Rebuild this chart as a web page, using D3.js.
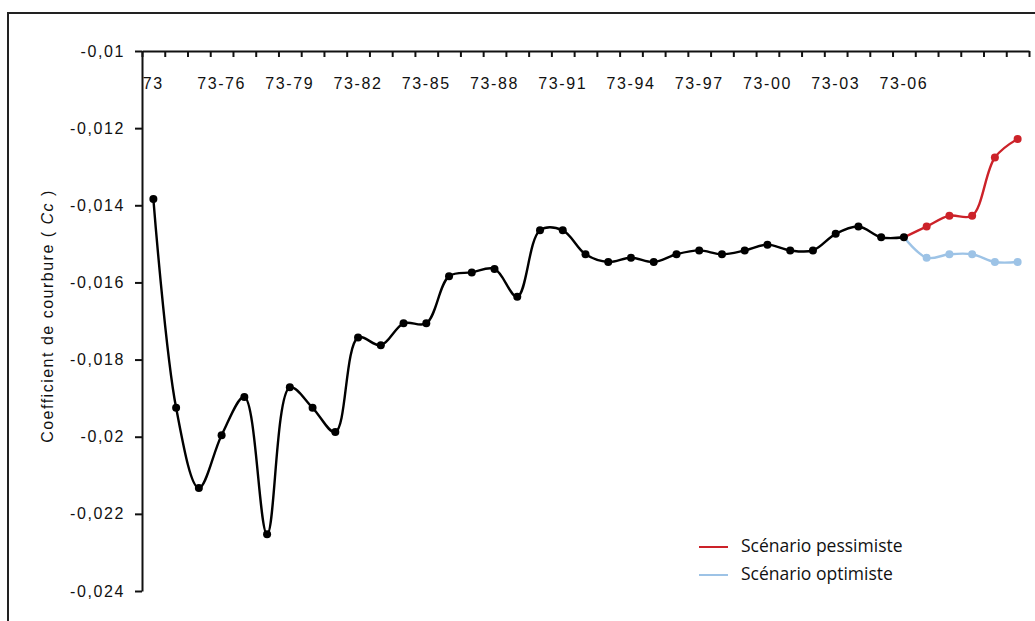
<!DOCTYPE html>
<html><head><meta charset="utf-8">
<script src="https://cdn.jsdelivr.net/npm/d3@7/dist/d3.min.js"></script>
<style>
html,body{margin:0;padding:0;background:#fff;}
svg{display:block;}
</style></head>
<body>
<svg id="chart" width="1035" height="621"></svg>
<script>
// ---- data ----
const years = d3.range(1973, 2012); // 1973 .. 2011 (categories)
const observedYears = d3.range(1973, 2007);
const observed = [-0.01384,-0.01925,-0.02133,-0.01996,-0.01897,-0.02253,-0.01872,-0.01925,-0.01988,-0.01743,
  -0.01763,-0.01706,-0.01706,-0.01584,-0.01574,-0.01565,-0.01637,-0.01465,-0.01465,-0.01527,
  -0.01547,-0.01536,-0.01547,-0.01527,-0.01517,-0.01527,-0.01517,-0.01502,-0.01517,-0.01517,
  -0.01474,-0.01455,-0.01483,-0.01483];
const scenarioYears = [2006, 2007, 2008, 2009, 2010, 2011];
const pessimiste = [-0.01483, -0.01455, -0.01427, -0.01427, -0.01276, -0.01228];
const optimiste  = [-0.01483, -0.01536, -0.01527, -0.01527, -0.01547, -0.01547];
const yTicks = [-0.01, -0.012, -0.014, -0.016, -0.018, -0.02, -0.022, -0.024];
const xLabelYears = [1973,1976,1979,1982,1985,1988,1991,1994,1997,2000,2003,2006];
const xLabels = ["73","73-76","73-79","73-82","73-85","73-88","73-91","73-94","73-97","73-00","73-03","73-06"];
const legendLabels = ["Scénario pessimiste", "Scénario optimiste"];
const colors = {obs:"#000000", pess:"#cc2229", opt:"#9dc3e6"};

// ---- layout ----
const svg = d3.select("#chart");
const mLeft = 142, mRight = 1029, mTop = 51, mBottom = 591;

// outer frame
svg.append("rect").attr("x",8).attr("y",13).attr("width",1100).attr("height",700)
  .attr("fill","none").attr("stroke","#222").attr("stroke-width",2);

const x = d3.scaleBand().domain(years).range([mLeft, mRight]).padding(0);
const xc = d => x(d) + x.bandwidth()/2;
const xb = d3.scaleLinear().domain([0, years.length]).range([mLeft, mRight]);
const y = d3.scaleLinear().domain([-0.024, -0.01]).range([mBottom, mTop]);

const fmt = v => String(v).replace(".", ",");

// y axis
const yAxis = svg.append("g").attr("transform",`translate(${mLeft},0)`)
  .call(d3.axisLeft(y).tickValues(yTicks).tickFormat(fmt).tickSize(7).tickSizeOuter(0).tickPadding(10));
yAxis.select(".domain").attr("stroke","#111").attr("stroke-width",2);
yAxis.selectAll(".tick line").attr("stroke","#111").attr("stroke-width",2);
yAxis.selectAll(".tick text").attr("font-family","Liberation Sans, Arial, sans-serif")
  .attr("font-size",16).attr("fill","#111").style("letter-spacing","1.6px");

// x axis (top) ticks at band boundaries
const xAxis = svg.append("g").attr("transform",`translate(0,${mTop})`)
  .call(d3.axisTop(xb).tickValues(d3.range(0, years.length + 1)).tickFormat("").tickSize(-6).tickSizeOuter(0));
xAxis.select(".domain").attr("stroke","#111").attr("stroke-width",2);
xAxis.selectAll(".tick line").attr("stroke","#111").attr("stroke-width",2);

// x labels
svg.append("g").selectAll("text").data(xLabelYears).join("text")
  .attr("x", d => xc(d)).attr("y", 89)
  .attr("text-anchor","middle")
  .attr("font-family","Liberation Sans, Arial, sans-serif").attr("font-size",16).attr("fill","#111")
  .style("letter-spacing","1.6px")
  .text((d,i) => xLabels[i]);

// y title
const yt = svg.append("text")
  .attr("transform", `translate(53,316) rotate(-90)`)
  .attr("text-anchor","middle")
  .attr("font-family","Liberation Sans, Arial, sans-serif").attr("font-size",16).attr("fill","#111")
  .style("letter-spacing","1.5px");
yt.append("tspan").text("Coefficient de courbure ( ");
yt.append("tspan").attr("font-style","italic").text("Cc");
yt.append("tspan").text(" )");

// lines
const line = d3.line().x(d => xc(d[0])).y(d => y(d[1])).curve(d3.curveCatmullRom.alpha(0.5));
const obsData = observedYears.map((yr,i) => [yr, observed[i]]);
const pessData = scenarioYears.map((yr,i) => [yr, pessimiste[i]]);
const optData = scenarioYears.map((yr,i) => [yr, optimiste[i]]);

svg.append("path").datum(optData).attr("d", line).attr("fill","none").attr("stroke",colors.opt).attr("stroke-width",2.4);
svg.append("path").datum(pessData).attr("d", line).attr("fill","none").attr("stroke",colors.pess).attr("stroke-width",2.4);
svg.append("path").datum(obsData).attr("d", line).attr("fill","none").attr("stroke",colors.obs).attr("stroke-width",2.4);

svg.append("g").selectAll("circle").data(optData.slice(1)).join("circle")
  .attr("cx", d => xc(d[0])).attr("cy", d => y(d[1])).attr("r",4).attr("fill",colors.opt);
svg.append("g").selectAll("circle").data(pessData.slice(1)).join("circle")
  .attr("cx", d => xc(d[0])).attr("cy", d => y(d[1])).attr("r",4).attr("fill",colors.pess);
svg.append("g").selectAll("circle").data(obsData).join("circle")
  .attr("cx", d => xc(d[0])).attr("cy", d => y(d[1])).attr("r",4).attr("fill",colors.obs);

// legend
const lg = svg.append("g");
const legendItems = [{label:legendLabels[0], color:colors.pess, y:547},{label:legendLabels[1], color:colors.opt, y:575}];
legendItems.forEach(it => {
  lg.append("line").attr("x1",699).attr("x2",728).attr("y1",it.y).attr("y2",it.y)
    .attr("stroke",it.color).attr("stroke-width",2);
  lg.append("text").attr("x",741).attr("y",it.y+5)
    .attr("font-family","Open Sans, Noto Sans, sans-serif").attr("font-size",17.5).attr("fill","#111")
    .text(it.label);
});
</script>
</body></html>
